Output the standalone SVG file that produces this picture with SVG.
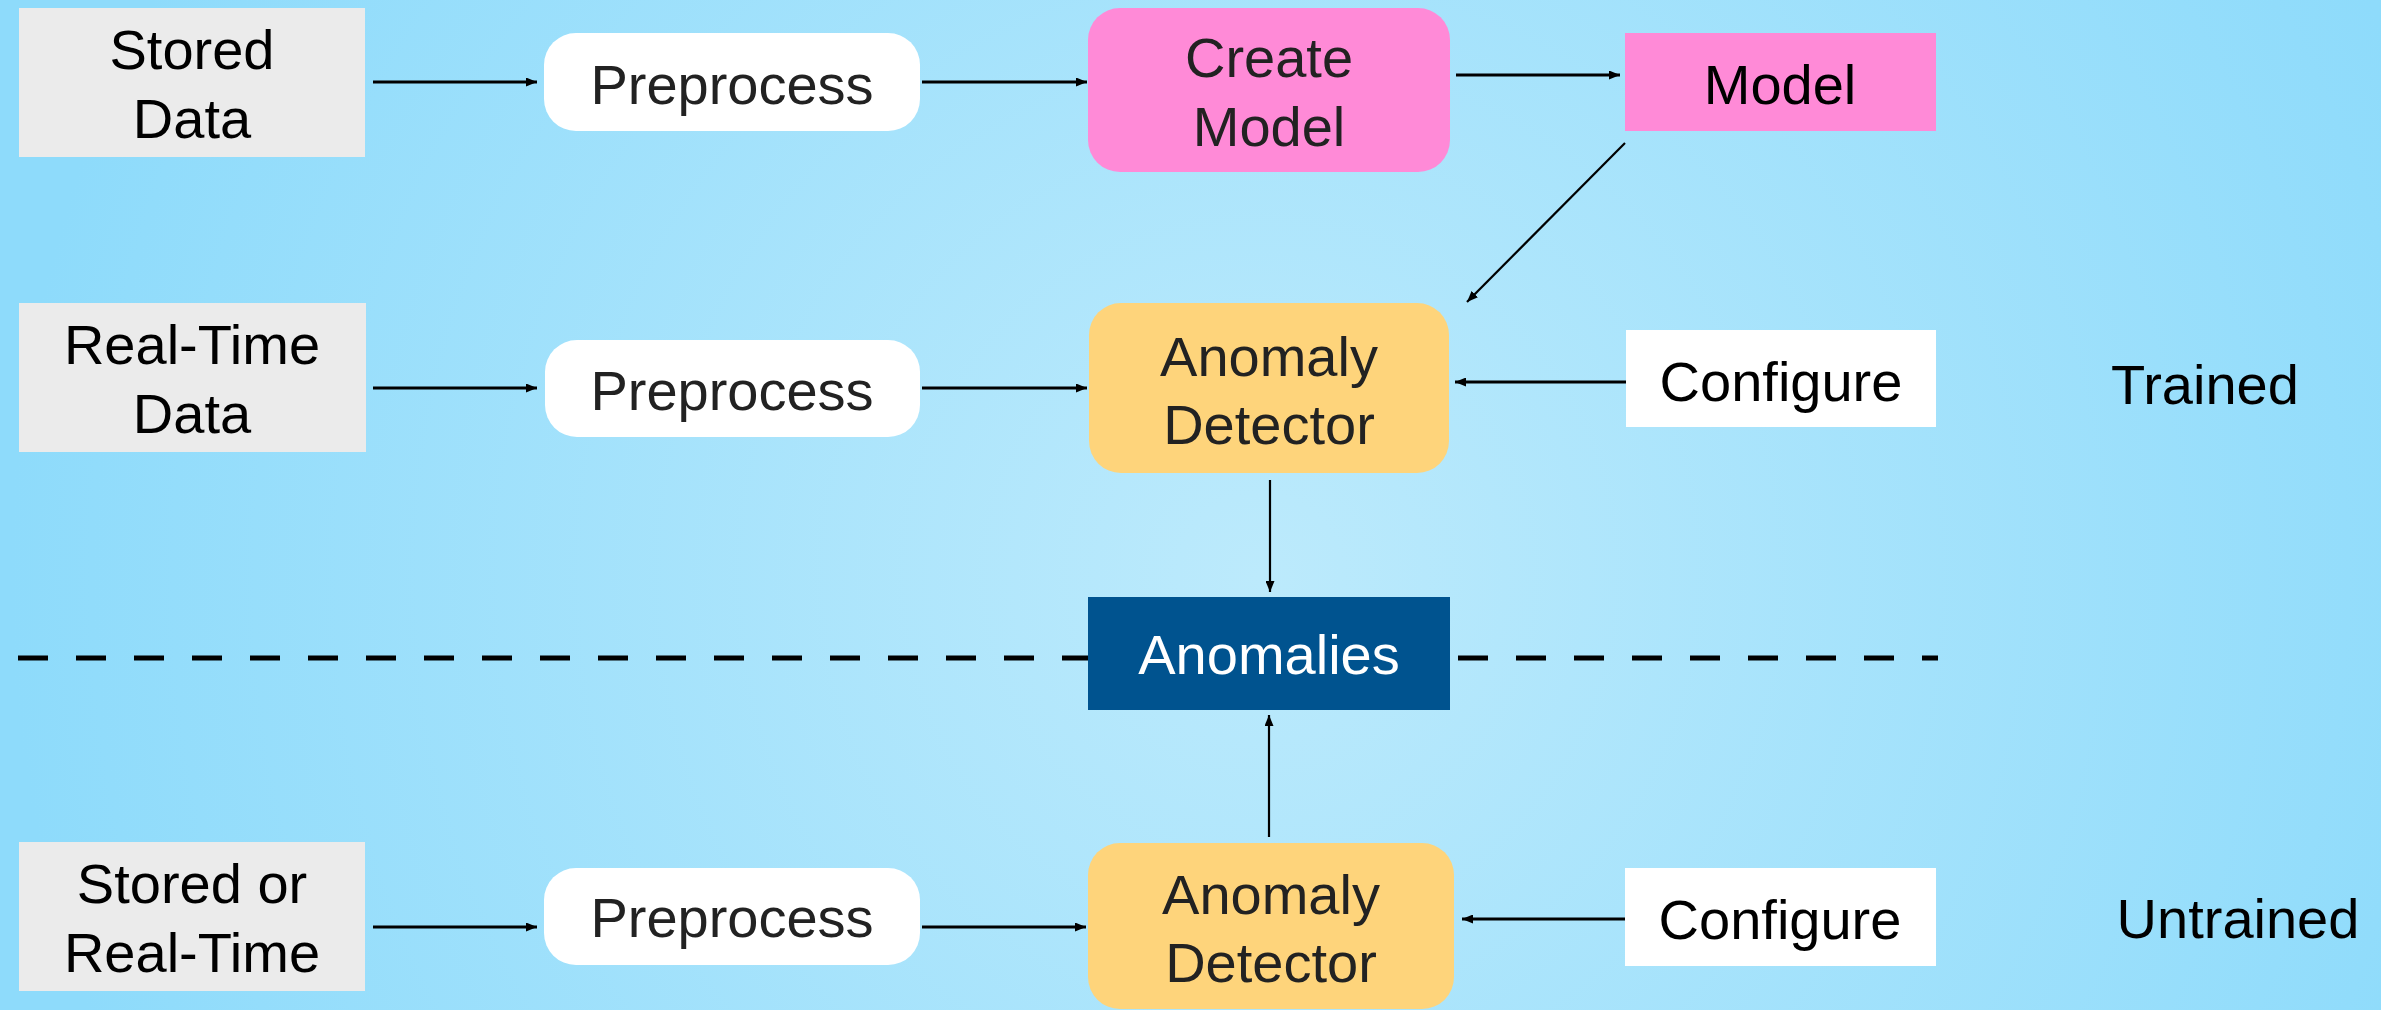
<svg xmlns="http://www.w3.org/2000/svg" width="2381" height="1010" viewBox="0 0 2381 1010">
<defs>
<radialGradient id="bg" cx="1260" cy="577" r="1250" gradientUnits="userSpaceOnUse">
<stop offset="0" stop-color="#bceafc"/>
<stop offset="1" stop-color="#8edbfb"/>
</radialGradient>
<marker id="ah" markerUnits="userSpaceOnUse" markerWidth="11" markerHeight="9" refX="11" refY="4.5" orient="auto">
<path d="M0,0 L11,4.5 L0,9 z" fill="#000"/>
</marker>
</defs>
<style>
text{font-family:"Liberation Sans",Arial,sans-serif;font-size:56px;text-anchor:middle}
.dk{fill:#222}
.bk{fill:#000}
.gray{fill:#ebebeb}
.white{fill:#fff}
.pink{fill:#ff8ad7}
.yel{fill:#fed47b}
.blue{fill:#00538f}
.c{stroke:#000;fill:none;marker-end:url(#ah)}
.t3{stroke-width:3}
.t2{stroke-width:2.2}
</style>
<rect width="2381" height="1010" fill="url(#bg)"/>
<g id="connectors">
<line class="c t3" x1="373" y1="82" x2="537" y2="82"/>
<line class="c t3" x1="922" y1="82" x2="1087" y2="82"/>
<line class="c t3" x1="1456" y1="75" x2="1620" y2="75"/>
<line class="c t2" x1="1625" y1="143" x2="1467" y2="302"/>
<line class="c t3" x1="373" y1="388" x2="537" y2="388"/>
<line class="c t3" x1="922" y1="388" x2="1087" y2="388"/>
<line class="c t3" x1="1626" y1="382" x2="1455" y2="382"/>
<line class="c t2" x1="1270" y1="480" x2="1270" y2="592"/>
<line class="c t2" x1="1269" y1="837" x2="1269" y2="715"/>
<line class="c t3" x1="373" y1="927" x2="537" y2="927"/>
<line class="c t3" x1="922" y1="927" x2="1086" y2="927"/>
<line class="c t3" x1="1625" y1="919" x2="1462" y2="919"/>
<line x1="18" y1="658" x2="1088" y2="658" stroke="#000" stroke-width="5" stroke-dasharray="30 28"/>
<line x1="1458" y1="658" x2="1938" y2="658" stroke="#000" stroke-width="5" stroke-dasharray="30 28"/>
</g>
<g id="stored-data">
<rect class="gray" x="19" y="8" width="346" height="149"/>
<text class="bk" x="192" y="69">Stored</text>
<text class="bk" x="192" y="138">Data</text>
</g>
<g id="preprocess-1">
<rect class="white" x="544" y="33" width="376" height="98" rx="32"/>
<text class="dk" x="732" y="104">Preprocess</text>
</g>
<g id="create-model">
<rect class="pink" x="1088" y="8" width="362" height="164" rx="32"/>
<text class="dk" x="1269" y="77">Create</text>
<text class="dk" x="1269" y="146">Model</text>
</g>
<g id="model">
<rect class="pink" x="1625" y="33" width="311" height="98"/>
<text class="bk" x="1780" y="104">Model</text>
</g>
<g id="real-time-data">
<rect class="gray" x="19" y="303" width="347" height="149"/>
<text class="bk" x="192" y="364">Real-Time</text>
<text class="bk" x="192" y="433">Data</text>
</g>
<g id="preprocess-2">
<rect class="white" x="545" y="340" width="375" height="97" rx="32"/>
<text class="dk" x="732" y="410">Preprocess</text>
</g>
<g id="anomaly-detector-1">
<rect class="yel" x="1089" y="303" width="360" height="170" rx="32"/>
<text class="dk" x="1269" y="376">Anomaly</text>
<text class="dk" x="1269" y="444">Detector</text>
</g>
<g id="configure-1">
<rect class="white" x="1626" y="330" width="310" height="97"/>
<text class="bk" x="1781" y="401">Configure</text>
</g>
<g id="trained-label">
<text class="bk" x="2205" y="404">Trained</text>
</g>
<g id="anomalies">
<rect class="blue" x="1088" y="597" width="362" height="113"/>
<text fill="#fff" x="1269" y="674">Anomalies</text>
</g>
<g id="stored-or-real-time">
<rect class="gray" x="19" y="842" width="346" height="149"/>
<text class="bk" x="192" y="903">Stored or</text>
<text class="bk" x="192" y="972">Real-Time</text>
</g>
<g id="preprocess-3">
<rect class="white" x="544" y="868" width="376" height="97" rx="32"/>
<text class="dk" x="732" y="937">Preprocess</text>
</g>
<g id="anomaly-detector-2">
<rect class="yel" x="1088" y="843" width="366" height="166" rx="32"/>
<text class="dk" x="1271" y="914">Anomaly</text>
<text class="dk" x="1271" y="982">Detector</text>
</g>
<g id="configure-2">
<rect class="white" x="1625" y="868" width="311" height="98"/>
<text class="bk" x="1780" y="939">Configure</text>
</g>
<g id="untrained-label">
<text class="bk" x="2238" y="938">Untrained</text>
</g>
</svg>
